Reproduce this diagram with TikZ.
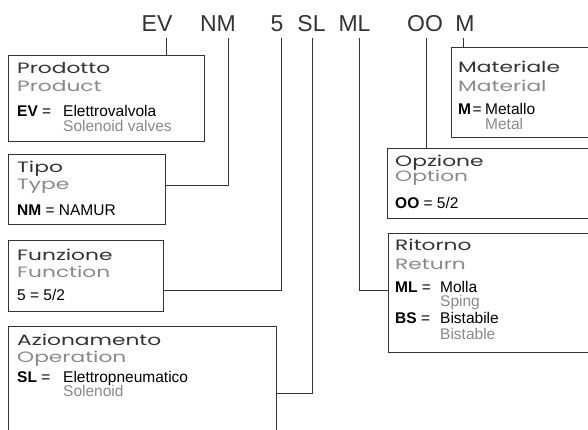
\documentclass[tikz,border=0pt]{standalone}
\usepackage{fontspec}
\setmainfont{Liberation Sans}
\newfontfamily\ttlfont[FakeStretch=1.45]{Poppins}
\usetikzlibrary{calc}
\definecolor{ink}{HTML}{333333}
\definecolor{subc}{HTML}{8A8A8A}
\begin{document}
\begin{tikzpicture}[x=1pt,y=-1pt,
 box/.style={draw=ink, line width=1.1pt, rectangle, inner sep=0pt, anchor=north west},
 conn/.style={draw=ink, line width=1pt},
 code/.style={font=\fontsize{23}{23}\selectfont, text=ink, inner sep=0pt, anchor=base},
 ttl/.style={font=\ttlfont\fontsize{15}{15}\selectfont, text=ink, inner sep=0pt, anchor=base west},
 subttl/.style={ttl, text=subc},
 txt/.style={font=\fontsize{15.5}{15.5}\selectfont, text=black, inner sep=0pt, anchor=base west},
 txtg/.style={txt, text=subc},
]
\useasboundingbox (0,0) rectangle (588,430);
\begin{scope}
\clip (0,0) rectangle (588,430);
\fill[white] (0,0) rectangle (588,430);

% code labels
\node[code] (lEV) at (157,32) {EV};
\node[code] (lNM) at (218,32) {NM};
\node[code] (l5)  at (277,32) {5};
\node[code] (lSL) at (311.5,32) {SL};
\node[code] (lML) at (354.5,32) {ML};
\node[code] (lOO) at (425,32) {OO};
\node[code] (lM)  at (465,32) {M};

\coordinate (cEV) at (166,38);
\coordinate (cNM) at (228,38);
\coordinate (c5)  at (281,38);
\coordinate (cSL) at (312,38);
\coordinate (cML) at (359,38);
\coordinate (cOO) at (426,38);
\coordinate (cM)  at (463,38);

% boxes
\node[box, minimum width=196pt, minimum height=86pt] (prod) at (8,55) {};
\node[box, minimum width=157pt, minimum height=70pt] (type) at (8,154) {};
\node[box, minimum width=155pt, minimum height=71pt] (fun) at (8,240) {};
\node[box, minimum width=268pt, minimum height=120pt] (op) at (8,326) {};
\node[box, minimum width=160pt, minimum height=90pt] (mat) at (451,47) {};
\node[box, minimum width=220pt, minimum height=70pt] (opt) at (387,148) {};
\node[box, minimum width=220pt, minimum height=119pt] (ret) at (388,233) {};

% connectors
\draw[conn] (cEV) -- (cEV |- prod.north);
\draw[conn] (cNM) |- ($(type.north east)+(0,32)$);
\draw[conn] (c5) |- ($(fun.north east)+(0,50)$);
\draw[conn] (cSL) |- ($(op.north east)+(0,67)$);
\draw[conn] (cML) |- ($(ret.north west)+(0,57)$);
\draw[conn] (cOO) -- (cOO |- opt.north);
\draw[conn] (cM) -- (cM |- mat.north);

% Product
\node[ttl] (prodA) at (17,74) {Prodotto};
\node[subttl] (prodB) at (17,92) {Product};
\node[txt] (prodC) at (17,117) {\textbf{EV} =};
\node[txt] (prodD) at (63,117) {Elettrovalvola};
\node[txtg] (prodE) at (63,132) {Solenoid valves};

% Type
\node[ttl] (typeA) at (17,173) {Tipo};
\node[subttl] (typeB) at (17,190) {Type};
\node[txt] (typeC) at (17,215) {\textbf{NM} = NAMUR};

% Function
\node[ttl] (funA) at (17,260) {Funzione};
\node[subttl] (funB) at (17,277) {Function};
\node[txt] (funC) at (17,300) {5 = 5/2};

% Operation
\node[ttl] (opA) at (17,345) {Azionamento};
\node[subttl] (opB) at (17,362) {Operation};
\node[txt] (opC) at (17,382) {\textbf{SL} =};
\node[txt] (opD) at (63,382) {Elettropneumatico};
\node[txtg] (opE) at (63,396) {Solenoid};

% Material
\node[ttl] (matA) at (458,73) {Materiale};
\node[subttl] (matB) at (458,92) {Material};
\node[txt] (matC) at (458,115) {\textbf{M}\hspace{1.5pt}=};
\node[txt] (matD) at (485,115) {Metallo};
\node[txtg] (matE) at (485,130) {Metal};

% Option
\node[ttl] (optA) at (395,167) {Opzione};
\node[subttl] (optB) at (395,182) {Option};
\node[txt] (optC) at (395,208) {\textbf{OO} = 5/2};

% Return
\node[ttl] (retA) at (395,250) {Ritorno};
\node[subttl] (retB) at (395,269) {Return};
\node[txt] (retC) at (395,292) {\textbf{ML} =};
\node[txt] (retD) at (440,292) {Molla};
\node[txtg] (retE) at (440,306) {Sping};
\node[txt] (retF) at (395,323) {\textbf{BS} =};
\node[txt] (retG) at (440,323) {Bistabile};
\node[txtg] (retH) at (440,339) {Bistable};
\end{scope}
\end{tikzpicture}
\end{document}
